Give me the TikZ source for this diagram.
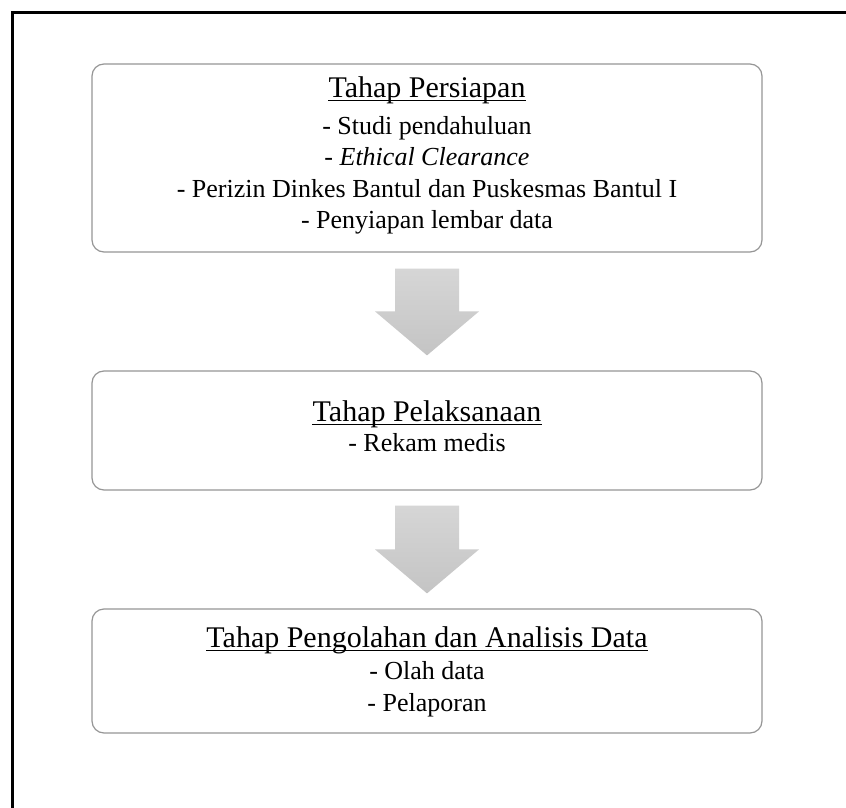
\documentclass[tikz,border=0pt]{standalone}
\usepackage{fontspec}
\setmainfont{Liberation Serif}
\usetikzlibrary{calc}
\definecolor{boxline}{RGB}{150,150,150}
\definecolor{arrtop}{RGB}{214,214,214}
\definecolor{arrbot}{RGB}{196,196,196}
\begin{document}
\begin{tikzpicture}[x=1pt,y=-1pt,
  stagebox/.style={draw=boxline, line width=1.2pt, rounded corners=12pt, fill=white, inner sep=0pt},
  titletext/.style={font=\fontsize{30}{36}\selectfont, anchor=base, inner sep=0pt},
  bodytext/.style={font=\fontsize{26}{31}\selectfont, anchor=base, inner sep=0pt},
  uline/.style={line width=1.3pt},
  blockarrow/.style={top color=arrtop, bottom color=arrbot, draw=none},
  frameline/.style={line width=3.5pt, line cap=rect}]
\useasboundingbox (0,0) rectangle (846,808);
\fill[white] (0,0) rectangle (846,808);
% outer frame (top and left)
\draw[frameline] (12.5,820) -- (12.5,12.5) -- (860,12.5);
% boxes
\node[stagebox, minimum width=670pt, minimum height=188pt] (box1) at (427,158) {};
\node[stagebox, minimum width=670pt, minimum height=119pt] (box2) at (427,430.5) {};
\node[stagebox, minimum width=670pt, minimum height=124pt] (box3) at (427,671) {};
% block arrows
\coordinate (a1top) at ($(box1.south)+(0,16)$);
\coordinate (a1tip) at ($(box2.north)+(0,-15)$);
\coordinate (a2top) at ($(box2.south)+(0,15)$);
\coordinate (a2tip) at ($(box3.north)+(0,-15)$);
\shade[blockarrow] ($(a1top)+(-32,0)$) -- ($(a1top)+(32,0)$) -- ($(a1tip)+(32,-44)$) -- ($(a1tip)+(52,-44)$) -- (a1tip) -- ($(a1tip)+(-52,-44)$) -- ($(a1tip)+(-32,-44)$) -- cycle;
\shade[blockarrow] ($(a2top)+(-32,0)$) -- ($(a2top)+(32,0)$) -- ($(a2tip)+(32,-44)$) -- ($(a2tip)+(52,-44)$) -- (a2tip) -- ($(a2tip)+(-52,-44)$) -- ($(a2tip)+(-32,-44)$) -- cycle;
% box 1 text
\node[titletext] (t1) at (427,97) {Tahap Persiapan};
\draw[uline] ([yshift=-3.5pt]t1.base west) -- ([yshift=-3.5pt]t1.base east);
\node[bodytext] (l11) at (427,134) {- Studi pendahuluan};
\node[bodytext] (l12) at (427,165.5) {- \textit{Ethical Clearance}};
\node[bodytext] (l13) at (427,197) {- Perizin Dinkes Bantul dan Puskesmas Bantul I};
\node[bodytext] (l14) at (427,228.5) {- Penyiapan lembar data};
% box 2 text
\node[titletext] (t2) at (427,421) {Tahap Pelaksanaan};
\draw[uline] ([yshift=-3.5pt]t2.base west) -- ([yshift=-3.5pt]t2.base east);
\node[bodytext] (l21) at (427,451) {- Rekam medis};
% box 3 text
\node[titletext] (t3) at (427,647) {Tahap Pengolahan dan Analisis Data};
\draw[uline] ([yshift=-3.5pt]t3.base west) -- ([yshift=-3.5pt]t3.base east);
\node[bodytext] (l31) at (427,679) {- Olah data};
\node[bodytext] (l32) at (427,711) {- Pelaporan};
\end{tikzpicture}
\end{document}
